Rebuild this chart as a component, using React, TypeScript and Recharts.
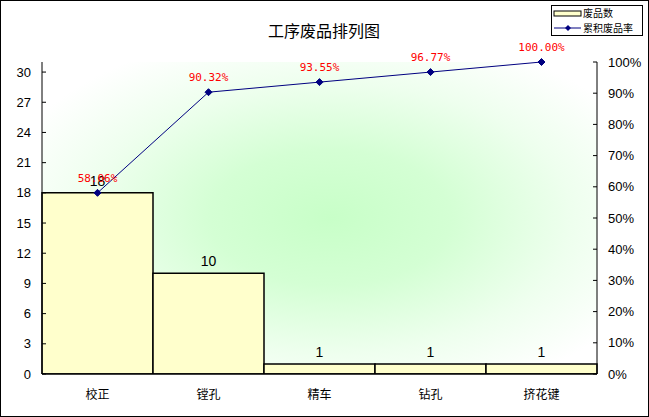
import { ComposedChart, Bar, Line, XAxis, YAxis, CartesianGrid, LabelList, Legend, Customized } from "recharts";

const categories = ["校正", "镗孔", "精车", "钻孔", "挤花键"];
const counts = [18, 10, 1, 1, 1];
const cumulativePct = [58.06, 90.32, 93.55, 96.77, 100.0];
const countTicks = [0, 3, 6, 9, 12, 15, 18, 21, 24, 27, 30];
const pctTicks = [0, 10, 20, 30, 40, 50, 60, 70, 80, 90, 100];

const data = categories.map((name, i) => ({
  name,
  count: counts[i],
  pct: cumulativePct[i],
}));

const TICK_FONT = { fontFamily: "Liberation Sans, Arial, sans-serif", fontSize: 13, fill: "#000" };
const CJK = "Noto Sans CJK SC, sans-serif";

const Diamond = (props: any) => {
  const { cx, cy } = props;
  if (cx == null || cy == null) return null;
  const r = 3.5;
  return (
    <polygon
      points={`${cx},${cy - r} ${cx + r},${cy} ${cx},${cy + r} ${cx - r},${cy}`}
      fill="#000080"
      stroke="#000080"
    />
  );
};

const LegendBox = () => (
  <div
    style={{
      width: 92,
      height: 31,
      border: "1px solid #000",
      background: "#fff",
      boxSizing: "border-box",
      position: "relative",
      fontFamily: CJK,
      fontSize: 10,
      lineHeight: "12px",
    }}
  >
    <svg width={30} height={30} style={{ position: "absolute", left: 1, top: 0 }}>
      <rect x={1} y={5} width={27} height={5} fill="#FFFFCC" stroke="#000" strokeWidth={1} />
      <line x1={1} y1={22} x2={28} y2={22} stroke="#000080" strokeWidth={1} />
      <polygon points="15,19 18,22 15,25 12,22" fill="#000080" />
    </svg>
    <div style={{ position: "absolute", left: 31, top: 1 }}>废品数</div>
    <div style={{ position: "absolute", left: 31, top: 16 }}>累积废品率</div>
  </div>
);

const Title = () => (
  <text x={323} y={36} textAnchor="middle" fontFamily={CJK} fontSize={16} fill="#000">
    工序废品排列图
  </text>
);

export default function App() {
  return (
    <div
      style={{
        position: "fixed",
        left: 0,
        top: 0,
        width: 649,
        height: 417,
        border: "1px solid #000",
        boxSizing: "border-box",
        background: "#fff",
      }}
    >
      <ComposedChart
        width={647}
        height={415}
        data={data}
        margin={{ top: 61, right: 0, bottom: 0, left: 0 }}
        barCategoryGap={0}
        barGap={0}
      >
        <defs>
          <radialGradient id="plotBg" cx="52%" cy="50%" r="62%">
            <stop offset="0%" stopColor="#C8FFC8" />
            <stop offset="35%" stopColor="#D4FFD4" />
            <stop offset="70%" stopColor="#EEFFEE" />
            <stop offset="100%" stopColor="#FFFFFF" />
          </radialGradient>
        </defs>
        <CartesianGrid horizontal={false} vertical={false} fill="url(#plotBg)" stroke="none" />
        <XAxis
          dataKey="name"
          height={42}
          tickLine={false}
          tickMargin={10}
          axisLine={{ stroke: "#000", strokeWidth: 1.5 }}
          tick={{ fontFamily: CJK, fontSize: 12, fill: "#000" }}
        />
        <YAxis
          yAxisId="left"
          width={41}
          domain={[0, 31]}
          ticks={countTicks}
          allowDataOverflow
          tickSize={-4}
          tickMargin={15}
          axisLine={{ stroke: "#000" }}
          tickLine={{ stroke: "#000" }}
          tick={TICK_FONT}
        />
        <YAxis
          yAxisId="right"
          orientation="right"
          width={51}
          domain={[0, 100]}
          ticks={pctTicks}
          tickFormatter={(v: number) => `${v}%`}
          tickSize={-4}
          tickMargin={15}
          axisLine={{ stroke: "#000" }}
          tickLine={{ stroke: "#000" }}
          tick={{ ...TICK_FONT, textAnchor: "start" }}
        />
        <Bar
          yAxisId="left"
          dataKey="count"
          fill="#FFFFCC"
          stroke="#000"
          strokeWidth={1.5}
          isAnimationActive={false}
        >
          <LabelList
            dataKey="count"
            position="top"
            offset={7}
            style={{ fontFamily: "Liberation Sans, Arial, sans-serif", fontSize: 14, fill: "#000" }}
          />
        </Bar>
        <Line
          yAxisId="right"
          dataKey="pct"
          stroke="#000080"
          strokeWidth={1}
          dot={<Diamond />}
          activeDot={false}
          isAnimationActive={false}
        >
          <LabelList
            dataKey="pct"
            position="top"
            offset={11}
            formatter={(v: number) => `${v.toFixed(2)}%`}
            style={{ fontFamily: "DejaVu Sans Mono, monospace", fontSize: 11, fill: "#FF0000" }}
          />
        </Line>
        <Legend
          layout="vertical"
          align="center"
          verticalAlign="middle"
          content={() => <LegendBox />}
          wrapperStyle={{ position: "absolute", left: 550, top: 4, width: 92, height: 31 }}
        />
        <Customized component={Title} />
      </ComposedChart>
    </div>
  );
}
